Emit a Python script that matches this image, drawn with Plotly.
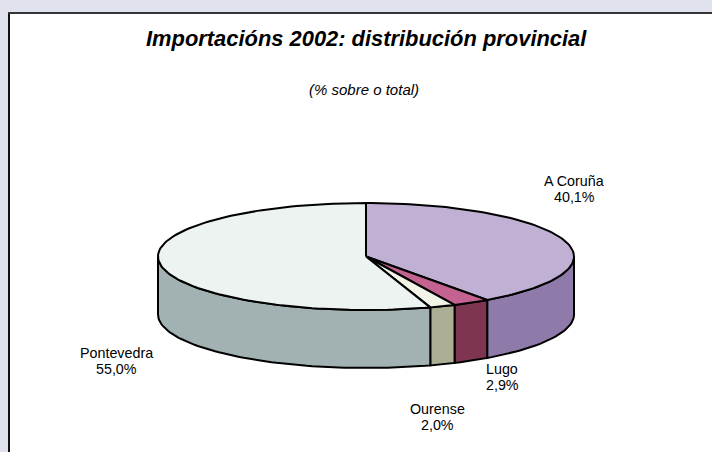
import math
import plotly.graph_objects as go

# --- data ---
categories = ["A Coruña", "Lugo", "Ourense", "Pontevedra"]
values = [40.1, 2.9, 2.0, 55.0]
value_labels = ["40,1%", "2,9%", "2,0%", "55,0%"]
title_text = "Importacións 2002: distribución provincial"
subtitle_text = "(% sobre o total)"

# --- styles ---
top_colors = ["#C0B0D3", "#C46392", "#F1F4E6", "#EDF3F1"]
side_colors = ["#8F7BA9", "#7E3552", "#ABAE92", "#A2B1B1"]
BG = "#E0E2EE"
FONT = "Liberation Sans, Arial, sans-serif"
W, H = 712, 452

# --- pie projection (pixel-scaled axes) ---
CX, CY, RX, RY, DEPTH = 366.0, 256.5, 208.0, 53.5, 58.0
label_anchor = [(574, 188.5), (502, 377), (437, 417), (116, 361)]


def pt(deg, dy=0.0):
    r = math.radians(deg)
    return CX + RX * math.sin(r), CY - RY * math.cos(r) + dy


def arc(a0, a1, dy=0.0):
    n = max(2, int(abs(a1 - a0) / 1.5) + 1)
    return [pt(a0 + (a1 - a0) * i / (n - 1), dy) for i in range(n)]


total = sum(values)
bounds = [0.0]
for v in values:
    bounds.append(bounds[-1] + 360.0 * v / total)

fig = go.Figure()


def add_poly(points, color, name):
    fig.add_trace(go.Scatter(
        x=[p[0] for p in points], y=[p[1] for p in points],
        mode="lines", fill="toself", fillcolor=color,
        line=dict(color="#000000", width=2), name=name,
        showlegend=False, hoverinfo="name"))


# visible side wall: between the right (90°) and left (270°) extremes
for i, name in enumerate(categories):
    a0, a1 = max(bounds[i], 90.0), min(bounds[i + 1], 270.0)
    if a1 > a0:
        top = arc(a0, a1)
        bottom = arc(a1, a0, DEPTH)
        add_poly(top + bottom + [top[0]], side_colors[i], name)

# top faces
for i, name in enumerate(categories):
    add_poly([(CX, CY)] + arc(bounds[i], bounds[i + 1]) + [(CX, CY)], top_colors[i], name)

shapes = [
    dict(type="rect", xref="x", yref="y", x0=8, y0=12, x1=W, y1=H,
         fillcolor="#FFFFFF", line=dict(width=0), layer="below"),
    dict(type="line", xref="x", yref="y", x0=9, y0=12, x1=9, y1=H,
         line=dict(color="#111111", width=2), layer="below"),
    dict(type="line", xref="x", yref="y", x0=8, y0=13, x1=W, y1=13,
         line=dict(color="#333338", width=2), layer="below"),
]

annotations = [
    dict(x=366.5, y=38, text=f"<b><i>{title_text}</i></b>", font=dict(size=21.9)),
    dict(x=364, y=89, text=f"<i>{subtitle_text}</i>", font=dict(size=15)),
]
for name, val, (ax, ay) in zip(categories, value_labels, label_anchor):
    annotations.append(dict(x=ax, y=ay - 8, text=name, font=dict(size=14.3)))
    annotations.append(dict(x=ax, y=ay + 8, text=val, font=dict(size=14.3)))
for a in annotations:
    a.update(xref="x", yref="y", showarrow=False, xanchor="center", yanchor="middle")
    a["font"].update(family=FONT, color="#000000")

fig.update_layout(
    width=W, height=H, margin=dict(l=0, r=0, t=0, b=0), autosize=False,
    paper_bgcolor=BG, plot_bgcolor="rgba(0,0,0,0)",
    xaxis=dict(range=[0, W], visible=False, domain=[0, 1], fixedrange=True),
    yaxis=dict(range=[H, 0], visible=False, domain=[0, 1], fixedrange=True),
    shapes=shapes, annotations=annotations, showlegend=False,
)
fig.write_html("out.html", config=dict(displayModeBar=False),
               post_script="document.body.style.margin='0';document.documentElement.style.overflow='hidden';")
